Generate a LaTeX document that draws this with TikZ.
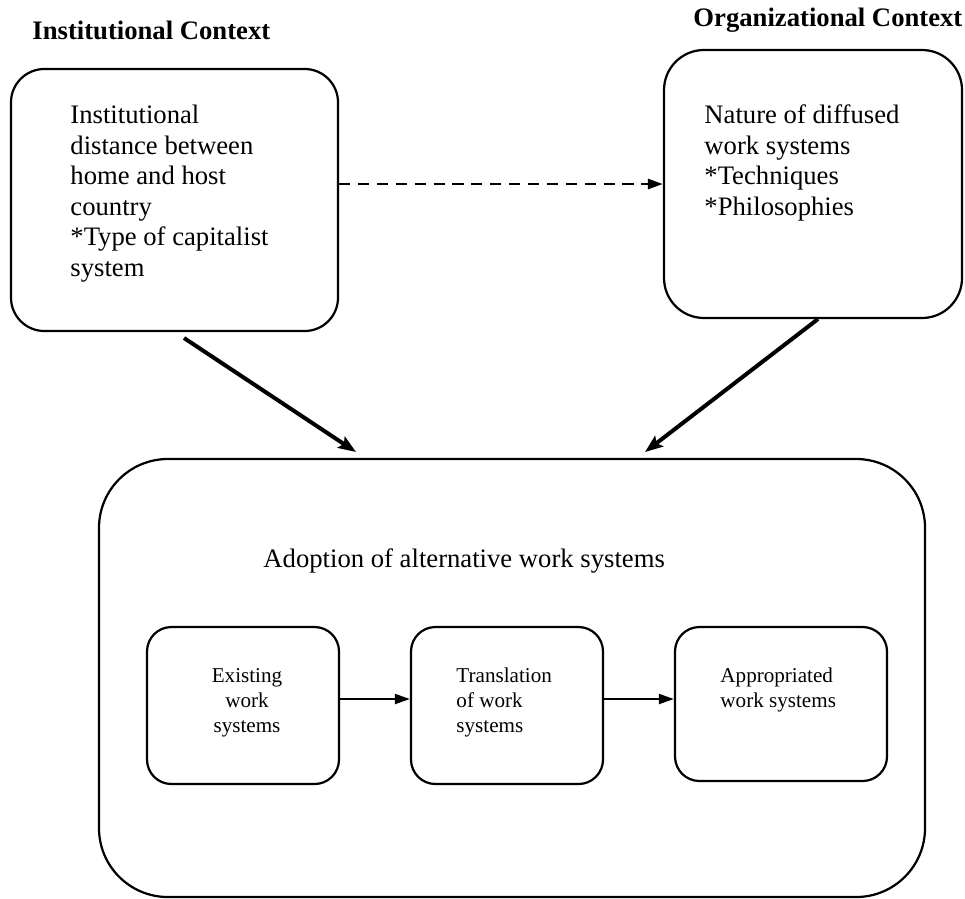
\documentclass[tikz,border=0pt]{standalone}
\usepackage{fontspec}
\setmainfont{Liberation Serif}
\usetikzlibrary{arrows.meta,fit,calc}
\begin{document}
\begin{tikzpicture}[x=0.45pt,y=-0.45pt,
  boxline/.style={draw=black,line width=1pt,inner sep=0pt},
  bigtext/.style={font=\fontsize{12}{13.7}\selectfont,inner sep=0pt,align=left,anchor=base west},
  smalltext/.style={font=\fontsize{9.5}{11.2}\selectfont,inner sep=0pt,anchor=base west},
  headtext/.style={font=\fontsize{12}{13.7}\selectfont\bfseries,inner sep=0pt,anchor=base west},
  thinarrow/.style={line width=1pt,-{Triangle[length=6.8pt,width=4.5pt]}},
  dasharrow/.style={line width=1.3pt,dash pattern=on 5pt off 3.5pt,-{Triangle[length=6.8pt,width=4.5pt]}},
  thickarrow/.style={line width=1.8pt,-{Stealth[length=8pt,width=6pt,inset=1.5pt]}}]
\useasboundingbox (0,0) rectangle (965,898);
\fill[white] (0,0) rectangle (965,898);
% headings
\node[headtext] (h1) at (32,39) {Institutional Context};
\node[headtext] (h2) at (693,26) {Organizational Context};
% top boxes (text nodes anchored at the baseline of their last line)
\node[boxline,rounded corners=15pt,fit={(11,69)(338,331)}] (inst) {};
\node[bigtext] (insttext) at (70,276) {Institutional\\distance between\\home and host\\country\\*Type of capitalist\\system};
\node[boxline,rounded corners=18pt,fit={(664,50)(962,318)}] (org) {};
\node[bigtext] (orgtext) at (704,215) {Nature of diffused\\work systems\\*Techniques\\*Philosophies};
% dashed connector
\coordinate (dy) at (0,184);
\draw[dasharrow] (inst.east |- dy) -- (org.west |- dy);
% big box
\node[boxline,rounded corners=31pt,fit={(99,459)(925,897)}] (adopt) {};
\node[bigtext] (adopttext) at (263,567) {Adoption of alternative work systems};
% inner boxes
\node[boxline,rounded corners=11pt,fit={(147,627)(339,784)}] (exist) {};
\node[smalltext,align=center,anchor=base] (existtext) at (247,732) {Existing\\work\\systems};
\node[boxline,rounded corners=11pt,fit={(411,627)(603,784)}] (transl) {};
\node[smalltext,align=left] (transltext) at (456,732) {Translation\\of work\\systems};
\node[boxline,rounded corners=11pt,fit={(675,627)(887,781)}] (approp) {};
\node[smalltext,align=left] (approptext) at (720,707) {Appropriated\\work systems};
\coordinate (ay) at (0,699);
\draw[thinarrow] (exist.east |- ay) -- (transl.west |- ay);
\draw[thinarrow] (transl.east |- ay) -- (approp.west |- ay);
% diagonal connectors
\coordinate (s1) at (184,338);
\coordinate (e1) at (356,452);
\coordinate (s2) at (818,319);
\coordinate (e2) at (645,452);
\draw[thickarrow] (s1) -- (e1);
\draw[thickarrow] (s2) -- (e2);
\end{tikzpicture}
\end{document}
